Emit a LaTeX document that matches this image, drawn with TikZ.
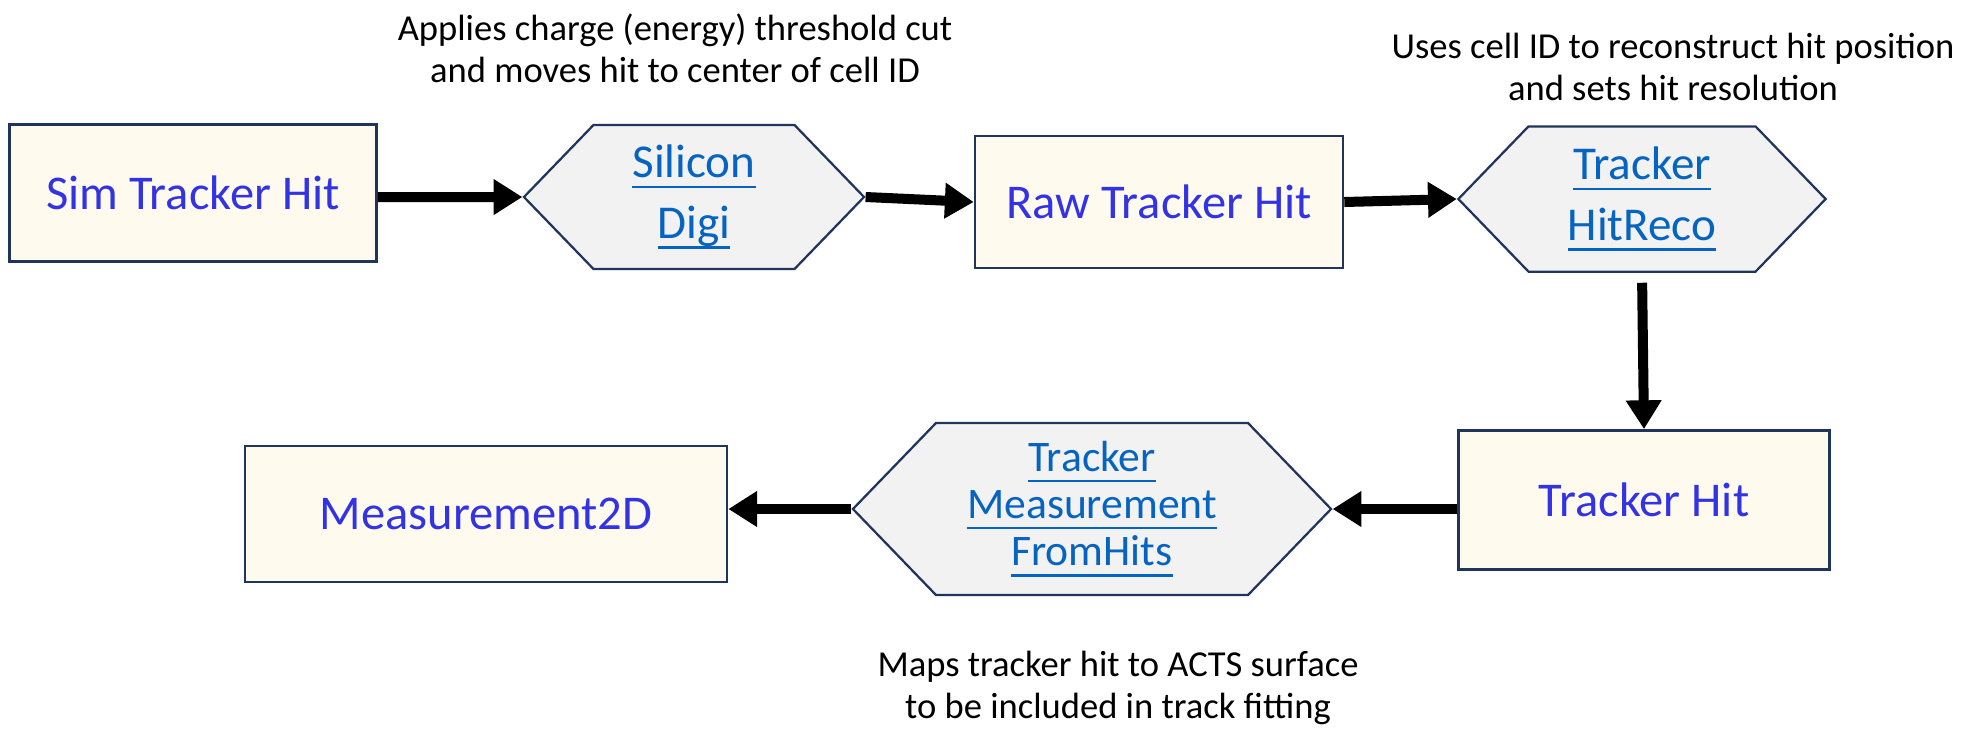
\documentclass[tikz,border=0pt]{standalone}
\usepackage{fontspec}
\setmainfont{Carlito}
\usetikzlibrary{arrows.meta,shapes.symbols}
\definecolor{boxfill}{RGB}{255,250,238}
\definecolor{hexfill}{RGB}{242,242,242}
\definecolor{edgeblue}{RGB}{32,52,92}
\definecolor{datablue}{RGB}{51,51,230}
\definecolor{linkblue}{RGB}{5,99,193}
% underlined link text
\newsavebox{\lnkbox}
\newcommand{\lnk}[1]{\sbox{\lnkbox}{#1}\rlap{\rule[-7.5pt]{\wd\lnkbox}{1.8pt}}\usebox{\lnkbox}}

\begin{document}
\begin{tikzpicture}[x=0.025cm,y=-0.025cm,
  data/.style={draw=edgeblue,line width=1.8pt,fill=boxfill,text=datablue,
    font=\fontsize{34.5}{40}\selectfont,inner sep=0pt},
  algo/.style={signal,signal to=west and east,signal pointer angle=92,
    draw=edgeblue,line width=1.6pt,fill=hexfill,text=linkblue,align=center,
    inner sep=0pt,font=\fontsize{33.5}{43}\selectfont},
  note/.style={align=center,font=\fontsize{26}{30}\selectfont},
  flow/.style={-{Triangle[length=0.72cm,width=0.85cm]},line width=0.25cm}]
\useasboundingbox (0,0) rectangle (1972,733);

% top row
\node[data,minimum width=9.18cm,minimum height=3.43cm] (sim) at (193,193) {Sim Tracker Hit};
\node[algo,minimum width=8.5cm,minimum height=3.6cm] (digi) at (694,197) {\lnk{Silicon}\\\lnk{Digi}};
\node[data,minimum width=9.2cm,minimum height=3.3cm] (raw) at (1159,202) {Raw Tracker Hit};
\node[algo,minimum width=9.18cm,minimum height=3.63cm] (reco) at (1642,199) {\lnk{Tracker}\\\lnk{HitReco}};

% bottom row
\node[data,minimum width=9.28cm,minimum height=3.48cm] (trk) at (1644,500) {Tracker Hit};
\node[algo,minimum width=11.95cm,minimum height=4.3cm,font=\fontsize{31}{33.5}\selectfont] (meas) at (1092,509)
  {\lnk{Tracker}\\\lnk{Measurement}\\\lnk{FromHits}};
\node[data,minimum width=12.05cm,minimum height=3.4cm] (m2d) at (486,514) {Measurement2D};

% what each step does
\node[note] (digitxt) at (675,48) {Applies charge (energy) threshold cut\\and moves hit to center of cell ID};
\node[note] (recotxt) at (1673,67) {Uses cell ID to reconstruct hit position\\and sets hit resolution};
\node[note] (meastxt) at (1118,688) {Maps tracker hit to ACTS surface\\to be included in track fitting};

\draw[flow] ([yshift=-3pt]sim.east) -- (digi.west);
\draw[flow] (digi.east) -- (raw.west);
\draw[flow] (raw.east) -- (reco.west);
\draw[flow,shorten <=0.25cm] (reco.south) -- (trk.north);
\draw[flow] (trk.west |- meas.east) -- (meas.east);
\draw[flow] (meas.west) -- (m2d.east |- meas.west);
\end{tikzpicture}
\end{document}
